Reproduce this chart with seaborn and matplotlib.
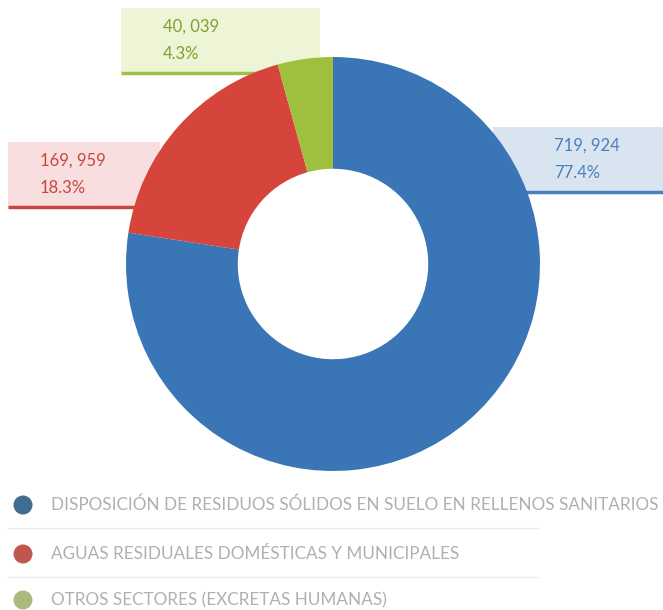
import matplotlib
matplotlib.use("Agg")
import matplotlib.pyplot as plt
import seaborn as sns
from matplotlib.patches import Rectangle, Circle

sns.set_theme(style="white")
plt.rcParams['font.family'] = ['Lato', 'DejaVu Sans']

categories = [
    "DISPOSICIÓN DE RESIDUOS SÓLIDOS EN SUELO EN RELLENOS SANITARIOS",
    "AGUAS RESIDUALES DOMÉSTICAS Y MUNICIPALES",
    "OTROS SECTORES (EXCRETAS HUMANAS)",
]
values = [719924, 169959, 40039]
value_labels = ["719, 924", "169, 959", "40, 039"]
pct_labels = ["77.4%", "18.3%", "4.3%"]

slice_colors = ["#3a76b6", "#d6453c", "#9fc03c"]
box_fill = ["#d9e4f1", "#f8dede", "#eef5d6"]
line_colors = ["#4a7fc0", "#c9443f", "#9cc04a"]
text_colors = ["#4a7fbd", "#c9463f", "#7f9f2e"]
dot_colors = ["#3f6d92", "#c0574c", "#a9ba7c"]

W, H = 663, 610
fig = plt.figure(figsize=(W / 100, H / 100), dpi=100)
fig.patch.set_facecolor("white")

# overlay axes in pixel coordinates
ov = fig.add_axes([0, 0, 1, 1], zorder=1)
ov.set_xlim(0, W)
ov.set_ylim(H, 0)
ov.axis("off")
ov.patch.set_alpha(0)

# label boxes (x0, x1, top, bottom) and text positions
boxes = [(493, 663, 127, 192), (8, 160, 142, 207), (121, 320, 8, 73)]
text_x = [554, 40, 163]
for i in range(3):
    x0, x1, t, b = boxes[i]
    ov.add_patch(Rectangle((x0, t), x1 - x0, b - t, facecolor=box_fill[i], edgecolor="none"))
    ov.plot([x0, x1], [b, b], color=line_colors[i], lw=2.5, solid_capstyle="butt")
    ov.text(text_x[i], t + 19, value_labels[i], color=text_colors[i], fontsize=12,
            fontweight="normal", va="center", ha="left")
    ov.text(text_x[i], t + 46, pct_labels[i], color=text_colors[i], fontsize=12,
            fontweight="normal", va="center", ha="left")

# legend
leg_y = [505, 554, 600]
for i in range(3):
    ov.add_patch(Circle((23, leg_y[i]), 9.5, facecolor=dot_colors[i], edgecolor="none"))
    ov.text(51, leg_y[i], categories[i], color="#b0b0b0", fontsize=12.3,
            fontweight="normal", va="center", ha="left")
for y in [528, 577]:
    ov.plot([8, 539], [y, y], color="#ececec", lw=1)

# donut
cx, cy, r = 333, 264, 207
pax = fig.add_axes([(cx - r) / W, (H - cy - r) / H, 2 * r / W, 2 * r / H], zorder=2)
pax.pie(values, colors=slice_colors, startangle=90, counterclock=False,
        radius=1, wedgeprops=dict(width=0.54, edgecolor="none"))
pax.set_xlim(-1, 1)
pax.set_ylim(-1, 1)
pax.set_aspect("equal")
pax.axis("off")

fig.savefig("out.png", dpi=100, facecolor="white")
